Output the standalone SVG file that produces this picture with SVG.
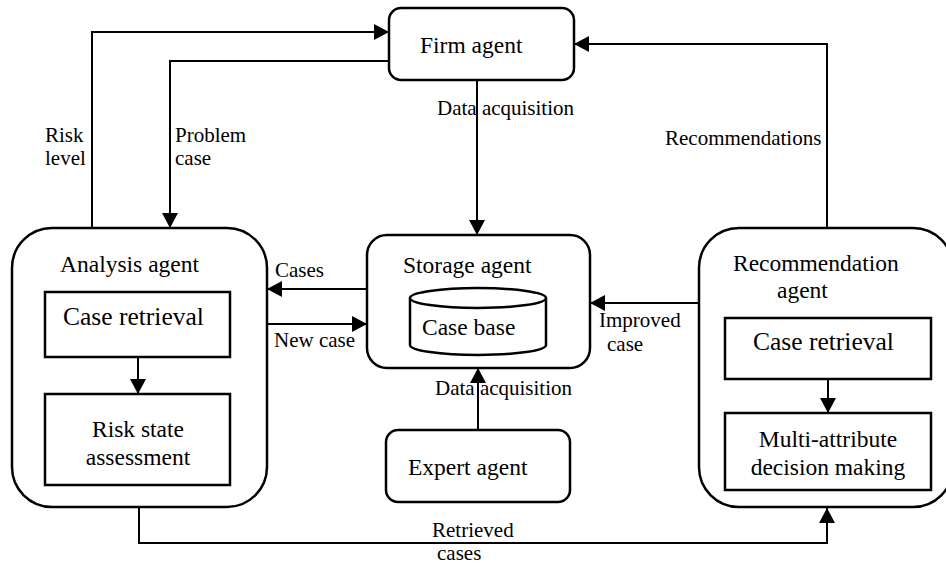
<svg xmlns="http://www.w3.org/2000/svg" width="946" height="565" viewBox="0 0 946 565" font-family="Liberation Serif, Times New Roman, serif">
<style>
.box{fill:#fff;stroke:#000;stroke-width:2.5}
.c{fill:none;stroke:#000;stroke-width:2}
text{font-family:'Liberation Serif','Times New Roman',serif;fill:#000}
.t{font-size:23.5px}
.cr{font-size:25.5px}
.l{font-size:21px}
.m{text-anchor:middle}
</style>
<defs>
<marker id="ah" markerUnits="userSpaceOnUse" markerWidth="16" markerHeight="16" refX="15" refY="8" orient="auto">
<path d="M0,0 L15,8 L0,16 z" fill="#000"/>
</marker>
</defs>
<rect width="946" height="565" fill="#fff"/>
<g id="firm">
<rect class="box" x="389" y="8" width="185" height="72" rx="12"/>
<text class="t" x="420" y="53">Firm agent</text>
</g>
<g id="analysis">
<rect class="box" x="12" y="228" width="255" height="279" rx="40"/>
<text class="t" x="60" y="272">Analysis agent</text>
<rect class="box" x="45" y="292" width="185" height="65"/>
<text class="cr" x="63" y="325">Case retrieval</text>
<rect class="box" x="45" y="394" width="185" height="91"/>
<text class="t m" x="138" y="437">Risk state</text>
<text class="t m" x="138" y="465">assessment</text>
</g>
<g id="storage">
<rect class="box" x="367" y="235" width="223" height="133" rx="20"/>
<text class="t" x="403" y="273">Storage agent</text>
<path class="box" d="M410,298 V345 A68,10 0 0 0 546,345 V298"/>
<ellipse class="box" cx="478" cy="298" rx="68" ry="10"/>
<text class="t" x="422" y="335">Case base</text>
</g>
<g id="expert">
<rect class="box" x="386" y="430" width="184" height="72" rx="12"/>
<text class="t" x="408" y="475">Expert agent</text>
</g>
<g id="recommendation">
<rect class="box" x="699" y="228" width="254" height="279" rx="40"/>
<text class="t" x="733" y="271">Recommendation</text>
<text class="t" x="777" y="298">agent</text>
<rect class="box" x="725" y="318" width="206" height="61"/>
<text class="cr" x="753" y="350">Case retrieval</text>
<rect class="box" x="725" y="413" width="206" height="77"/>
<text class="t m" x="828" y="447">Multi-attribute</text>
<text class="t m" x="828" y="475">decision making</text>
</g>
<g id="connectors">
<path class="c" d="M92,228 V32 H389" marker-end="url(#ah)"/>
<path class="c" d="M389,61 H170 V228" marker-end="url(#ah)"/>
<path class="c" d="M477,80 V235" marker-end="url(#ah)"/>
<path class="c" d="M827,228 V44 H574" marker-end="url(#ah)"/>
<path class="c" d="M367,289 H267" marker-end="url(#ah)"/>
<path class="c" d="M267,324 H367" marker-end="url(#ah)"/>
<path class="c" d="M699,303 H590" marker-end="url(#ah)"/>
<path class="c" d="M478,430 V368" marker-end="url(#ah)"/>
<path class="c" d="M139,507 V543 H827 V508" marker-end="url(#ah)"/>
<path class="c" d="M138,357 V394" marker-end="url(#ah)"/>
<path class="c" d="M828,379 V413" marker-end="url(#ah)"/>
<text class="l" x="45" y="142">Risk</text>
<text class="l" x="45" y="165">level</text>
<text class="l" x="175" y="142">Problem</text>
<text class="l" x="175" y="165">case</text>
<text class="l" x="437" y="115">Data acquisition</text>
<text class="l" x="665" y="145">Recommendations</text>
<text class="l" x="275" y="277">Cases</text>
<text class="l" x="274" y="347">New case</text>
<text class="l" x="599" y="327">Improved</text>
<text class="l" x="607" y="351">case</text>
<text class="l" x="435" y="395">Data acquisition</text>
<text class="l" x="432" y="537">Retrieved</text>
<text class="l" x="437" y="560">cases</text>
</g>
</svg>
